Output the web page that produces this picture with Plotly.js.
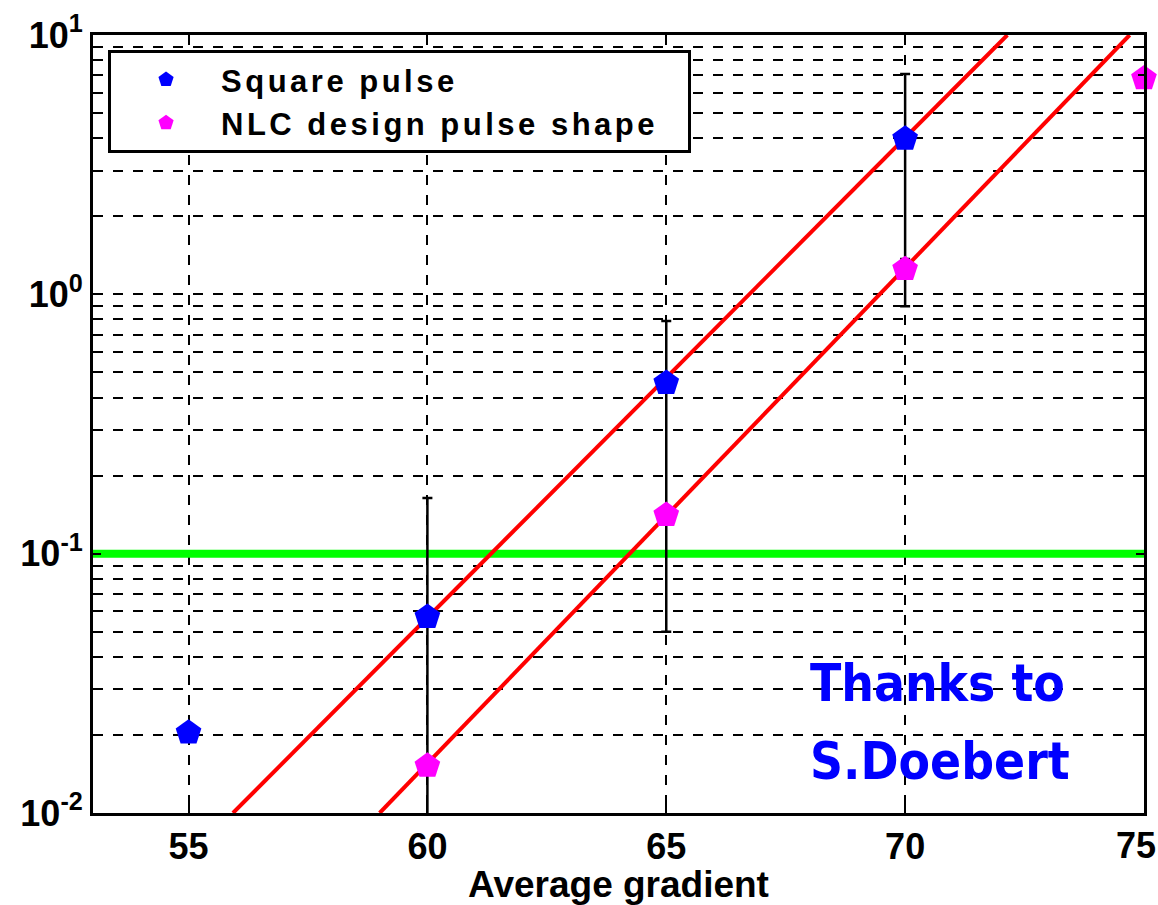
<!DOCTYPE html>
<html>
<head>
<meta charset="utf-8">
<script src="https://cdn.plot.ly/plotly-3.0.1.min.js"></script>
<style>
  html, body { margin: 0; padding: 0; background: #ffffff; }
  #chart { width: 1158px; height: 905px; }
  .legendtext { letter-spacing: 3.5px; }
</style>
</head>
<body>
<div id="chart"></div>
<script>
// ---- data ----
const squareX = [55, 60, 65, 70];
const squareY = [0.0204, 0.057, 0.455, 3.98];
const squareErrPlus = [0, 0.107, 0.335, 3.1];
const squareErrMinus = [0, 0.052, 0.405, 3.08];

const nlcX = [60, 65, 70, 75];
const nlcY = [0.0152, 0.141, 1.25, 6.8];
const nlcErrPlus = [0, 0, 0.12, 0];
const nlcErrMinus = [0, 0, 0.1, 0];

const fitSquareX = [55.93, 72.14];
const fitSquareY = [0.01, 10];
const fitNlcX = [59.0, 74.7];
const fitNlcY = [0.01, 10];

const thresholdX = [53, 75];
const thresholdY = [0.1, 0.1];

const xTickVals = [55, 60, 65, 70, 75];
const xTickText = ['55', '60', '65', '70', ''];
const xEdgeLabel = '75';
const yDecades = [0.01, 0.1, 1, 10];
const yDecadeLabels = ['10<sup>-2</sup>', '10<sup>-1</sup>', '10<sup>0</sup>', '10<sup>1</sup>'];
const yMinorDigits = [2, 3, 4, 5, 6, 7, 8, 9];

const seriesNames = ['Square pulse', 'NLC design pulse shape'];
const annotationLines = ['Thanks to', 'S.Doebert'];

// ---- minor grid values (every 2..9 x decade) ----
const yMinorVals = [];
yDecades.slice(0, -1).forEach(d => yMinorDigits.forEach(m => yMinorVals.push(d * m)));

const tickFont = { family: 'Liberation Sans, Arial, sans-serif', size: 36, color: '#000', weight: 'bold' };

const traces = [
  { x: thresholdX, y: thresholdY, mode: 'lines', line: { color: '#00ff00', width: 8 }, showlegend: false, hoverinfo: 'skip' },
  { x: fitSquareX, y: fitSquareY, mode: 'lines', line: { color: '#ff0000', width: 4 }, showlegend: false, hoverinfo: 'skip' },
  { x: fitNlcX, y: fitNlcY, mode: 'lines', line: { color: '#ff0000', width: 4 }, showlegend: false, hoverinfo: 'skip' },
  {
    x: squareX, y: squareY, name: seriesNames[0] + '\u00a0\u00a0', mode: 'markers', cliponaxis: false,
    marker: { symbol: 'pentagon', size: 27, color: '#0000ff', line: { width: 0 } },
    error_y: { type: 'data', symmetric: false, array: squareErrPlus, arrayminus: squareErrMinus, color: '#000', thickness: 2.5, width: 5 }
  },
  {
    x: nlcX, y: nlcY, name: seriesNames[1] + '\u00a0\u00a0', mode: 'markers', cliponaxis: false,
    marker: { symbol: 'pentagon', size: 27, color: '#ff00ff', line: { width: 0 } },
    error_y: { type: 'data', symmetric: false, array: nlcErrPlus, arrayminus: nlcErrMinus, color: '#000', thickness: 2.5, width: 5 }
  }
];

const annFont = { family: 'DejaVu Sans Condensed, DejaVu Sans, sans-serif', size: 51, color: '#0000ff', weight: 'bold' };

const gridStyle = { gridcolor: '#000', gridwidth: 2, griddash: '10px,10px' };

const layout = {
  width: 1158, height: 905,
  margin: { l: 93, r: 14, t: 35, b: 92 },
  paper_bgcolor: '#ffffff', plot_bgcolor: '#ffffff',
  showlegend: true,
  legend: {
    x: 0.0143, y: 0.981, xanchor: 'left', yanchor: 'top',
    bgcolor: '#ffffff', bordercolor: '#000', borderwidth: 3,
    font: { family: 'Liberation Sans, Arial, sans-serif', size: 31, color: '#000', weight: 'bold' },
    itemwidth: 100
  },
  xaxis: Object.assign({
    type: 'linear', range: [53, 75.0005],
    tickmode: 'array', tickvals: xTickVals, ticktext: xTickText,
    tickfont: tickFont,
    ticks: 'inside', ticklen: 8, tickwidth: 2, tickcolor: '#000',
    showline: true, linecolor: '#000', linewidth: 3, mirror: 'ticks',
    showgrid: true,
    zeroline: false,
    title: { text: 'Average gradient', font: { family: 'Liberation Sans, Arial, sans-serif', size: 37, color: '#000', weight: 'bold' }, standoff: 8 }
  }, gridStyle),
  yaxis: Object.assign({
    type: 'log', range: [-2, 1],
    tickmode: 'array', tickvals: yDecades, ticktext: yDecadeLabels,
    tickfont: tickFont,
    ticks: 'inside', ticklen: 8, tickwidth: 2, tickcolor: '#000',
    showline: true, linecolor: '#000', linewidth: 3, mirror: 'ticks',
    showgrid: true,
    zeroline: false,
    minor: Object.assign({ tickmode: 'array', tickvals: yMinorVals, showgrid: true, ticks: 'inside', ticklen: 6, tickwidth: 2, tickcolor: '#000' }, gridStyle)
  }, gridStyle),
  annotations: [
    { text: annotationLines[0], xref: 'paper', yref: 'paper', x: 0.68, y: 0.166, xanchor: 'left', yanchor: 'middle', showarrow: false, font: annFont },
    { text: annotationLines[1], xref: 'paper', yref: 'paper', x: 0.68, y: 0.066, xanchor: 'left', yanchor: 'middle', showarrow: false, font: annFont },
    { text: xEdgeLabel, xref: 'paper', yref: 'paper', x: 1.0125, y: 0, xanchor: 'right', yanchor: 'top', yshift: -11, showarrow: false, font: tickFont, borderpad: 0 }
  ]
};

Plotly.newPlot('chart', traces, layout, { staticPlot: true, displayModeBar: false });
</script>
</body>
</html>
